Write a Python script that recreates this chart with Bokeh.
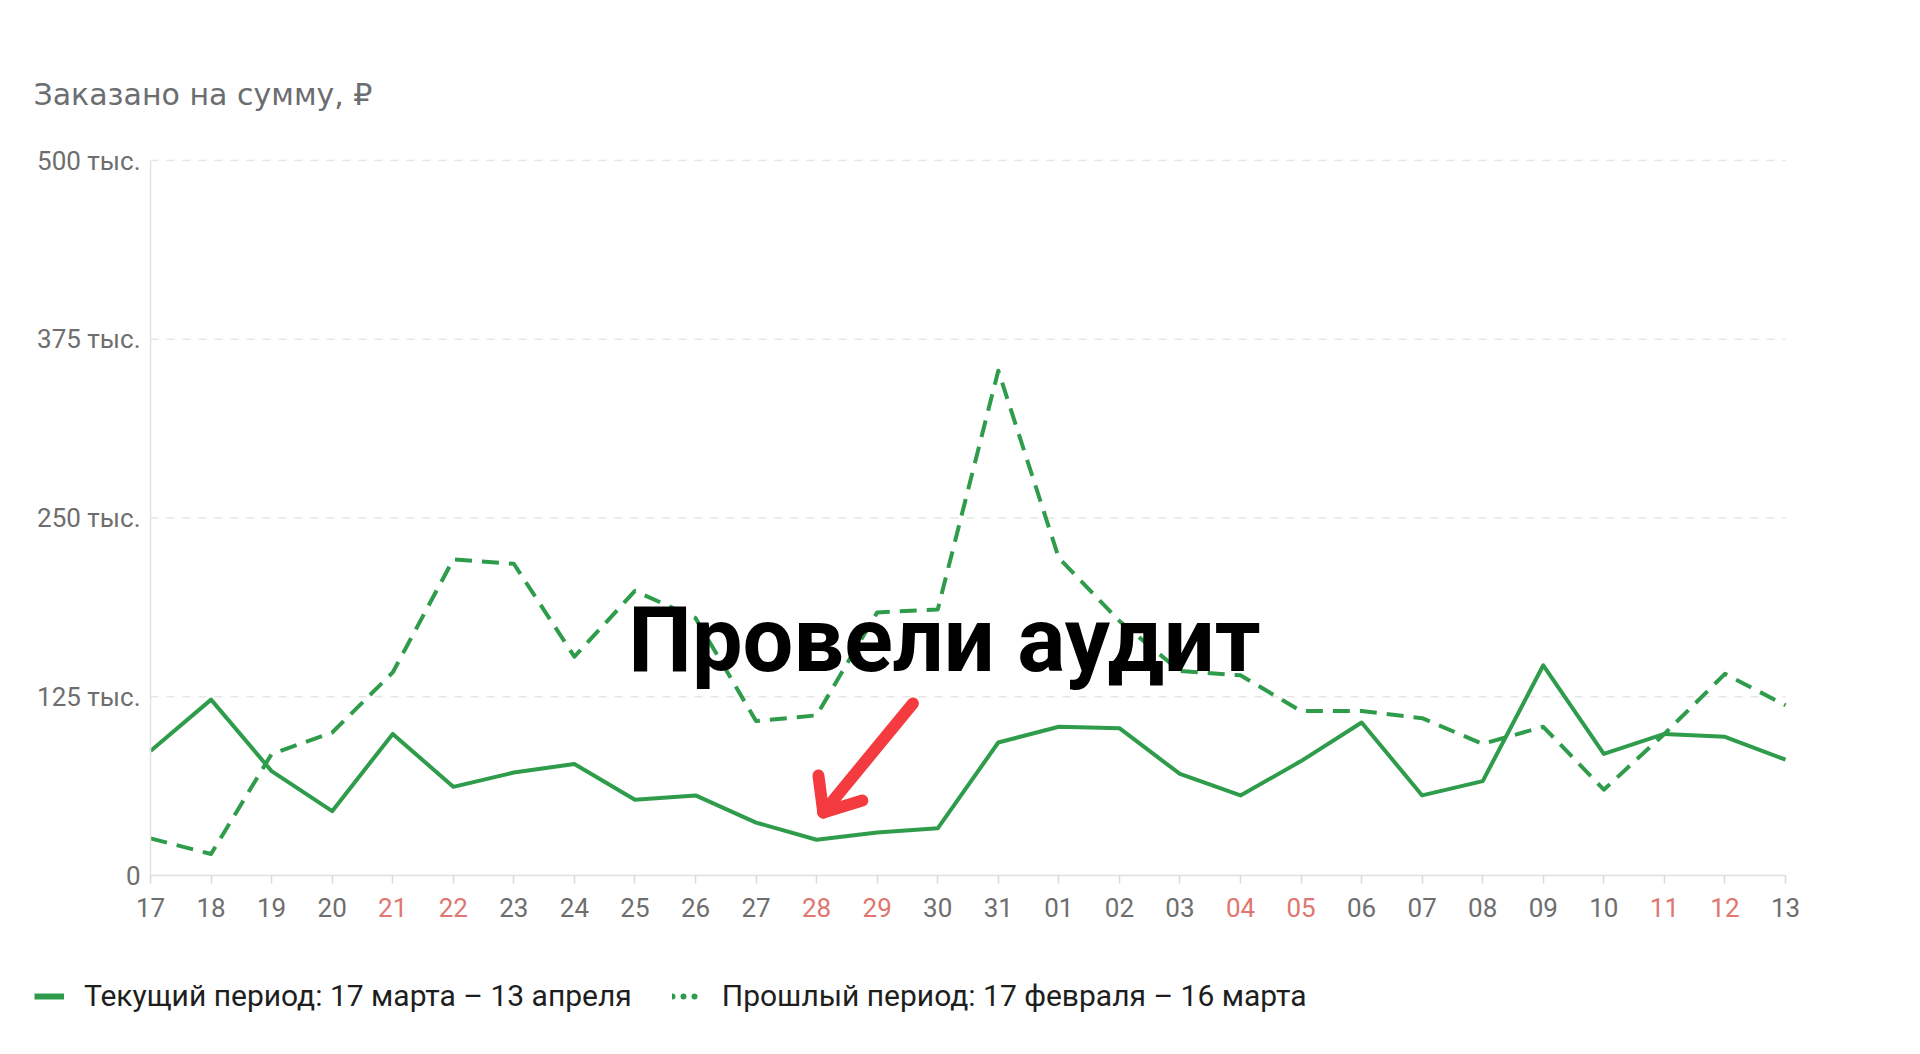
from bokeh.plotting import figure
from bokeh.models import (Range1d, FixedTicker, Label, LabelSet, ColumnDataSource,
                          Legend, LegendItem, Arrow)
from bokeh.core.properties import value
from bokeh.embed import file_html
from bokeh.resources import INLINE

# ---- data ----
days = ["17", "18", "19", "20", "21", "22", "23", "24", "25", "26", "27", "28", "29", "30",
        "31", "01", "02", "03", "04", "05", "06", "07", "08", "09", "10", "11", "12", "13"]
weekend = ["21", "22", "28", "29", "04", "05", "11", "12"]
current = [87, 123, 73, 45, 99, 62, 72, 78, 53, 56, 37, 25, 30, 33,
           93, 104, 103, 71, 56, 80, 107, 56, 66, 147, 85, 99, 97, 81]       # тыс. ₽
previous = [26, 15, 85, 100, 142, 221, 218, 153, 199, 180, 108, 112, 184, 186,
            353, 222, 178, 143, 140, 115, 115, 110, 92, 104, 60, 99, 141, 119]  # тыс. ₽
y_ticks = [0, 125, 250, 375, 500]
y_tick_labels = ["0", "125 тыс.", "250 тыс.", "375 тыс.", "500 тыс."]
title_text = "Заказано на сумму, ₽"
legend_current = "Текущий период: 17 марта – 13 апреля"
legend_previous = "Прошлый период: 17 февраля – 16 марта"
note_text = "Провели аудит"
audit_day = "28"

GREEN = "#2e9c4b"
GRAY_TXT = "#6e6e6e"
RED_TXT = "#e0766f"
ARROW_RED = "#f43b3f"

# ---- layout (pixels) ----
W, H = 1900, 1036
AX_L, AX_R, AX_T, AX_B = 150, 1785, 160, 875   # data area in canvas pixels
TICK_OUT, X_STANDOFF = 8, 14
n = len(days)
Y_MAX = y_ticks[-1]
px_x = (AX_R - AX_L) / (n - 1)
px_y = (AX_B - AX_T) / Y_MAX

x = list(range(n))

p = figure(width=W, height=H, output_backend="svg", toolbar_location=None,
           x_range=Range1d(-AX_L / px_x, (n - 1) + (W - AX_R) / px_x),
           y_range=Range1d(-(H - AX_B) / px_y, Y_MAX + AX_T / px_y),
           min_border=0)
p.outline_line_color = None
p.background_fill_color = "white"
p.border_fill_color = "white"

# grid (horizontal dashed lines only over the data area)
p.xgrid.grid_line_color = None
p.ygrid.grid_line_color = None
grid_src = ColumnDataSource(dict(x0=[0] * len(y_ticks[1:]), x1=[n - 1] * len(y_ticks[1:]),
                                 y=y_ticks[1:]))
p.segment(x0="x0", y0="y", x1="x1", y1="y", source=grid_src, line_color="#e6e6e6",
          line_width=1.5, line_dash="8 8")

# y axis
p.yaxis.fixed_location = 0
p.yaxis.bounds = (0, Y_MAX)
p.yaxis.ticker = FixedTicker(ticks=y_ticks)
p.yaxis.major_label_overrides = {t: l for t, l in zip(y_ticks, y_tick_labels)}
p.yaxis.major_tick_out = 0
p.yaxis.major_tick_in = 0
p.yaxis.minor_tick_line_color = None
p.yaxis.axis_line_color = "#e3e3e3"
p.yaxis.axis_line_width = 1.5
p.yaxis.major_label_standoff = 10
p.yaxis.major_label_text_font = "Roboto"
p.yaxis.major_label_text_font_size = "26px"
p.yaxis.major_label_text_color = GRAY_TXT

# x axis
p.xaxis.fixed_location = 0
p.xaxis.bounds = (0, n - 1)
p.xaxis.ticker = FixedTicker(ticks=x)
p.xaxis.major_label_overrides = {i: ("" if d in weekend else d) for i, d in enumerate(days)}
p.xaxis.major_tick_out = TICK_OUT
p.xaxis.major_tick_in = 0
p.xaxis.major_tick_line_color = "#d9d9d9"
p.xaxis.major_tick_line_width = 1.5
p.xaxis.minor_tick_line_color = None
p.xaxis.axis_line_color = "#e0e0e0"
p.xaxis.axis_line_width = 1.5
p.xaxis.major_label_standoff = X_STANDOFF
p.xaxis.major_label_text_font = "Roboto"
p.xaxis.major_label_text_font_size = "26px"
p.xaxis.major_label_text_color = GRAY_TXT

# weekend labels in red (same place as the axis labels)
wk_idx = [i for i, d in enumerate(days) if d in weekend]
wk_src = ColumnDataSource(dict(x=wk_idx, y=[H - (AX_B + TICK_OUT + X_STANDOFF)] * len(wk_idx),
                               t=[days[i] for i in wk_idx]))
p.add_layout(LabelSet(x="x", y="y", text="t", source=wk_src, y_units="screen",
                      text_align="center", text_baseline="top", text_font=value("Roboto"),
                      text_font_size=value("26px"), text_color=RED_TXT))

# series
p.line(x, previous, line_color=GREEN, line_width=4, line_dash="17 10", line_join="round")
p.line(x, current, line_color=GREEN, line_width=4, line_join="round")

# legend (invisible-data renderers for legend glyphs)
nan = float("nan")
r_cur = p.line([nan, nan], [nan, nan], line_color=GREEN, line_width=6)
r_prev = p.line([nan, nan], [nan, nan], line_color=GREEN, line_width=6,
                line_dash="0 11", line_cap="round")
legend = Legend(items=[LegendItem(label=legend_current, renderers=[r_cur]),
                       LegendItem(label=legend_previous, renderers=[r_prev])],
                orientation="horizontal", location=(34, H - 1013),
                padding=0, margin=0, spacing=40, label_standoff=20,
                glyph_width=30, glyph_height=30, label_height=30,
                label_text_font="Roboto", label_text_font_size="30px",
                label_text_color="#1e1e1e", border_line_color=None,
                background_fill_alpha=0)
p.add_layout(legend, "center")

# title
p.add_layout(Label(x=33, y=H - 94, x_units="screen", y_units="screen", text=title_text,
                   text_font="DejaVu Sans", text_font_size="30px", text_color="#6b6e70",
                   text_baseline="middle", text_align="left"))

# annotation
p.add_layout(Label(x=7.89, y=164, text=note_text, text_font="Roboto",
                   text_font_style="bold", text_font_size="90px", text_color="#000000",
                   text_baseline="alphabetic", text_align="left"))
ai = days.index(audit_day)
tip_x, tip_y = ai + 0.11, current[ai] + 19.1
for xs, ys in [(ai + 1.59, 120.3), (ai + 0.03, 69.9), (ai + 0.755, 52.4)]:
    p.add_layout(Arrow(x_start=xs, y_start=ys, x_end=tip_x, y_end=tip_y, end=None,
                       line_color=ARROW_RED, line_width=12, line_cap="round"))

open("out.html", "w").write(file_html(p, INLINE))
